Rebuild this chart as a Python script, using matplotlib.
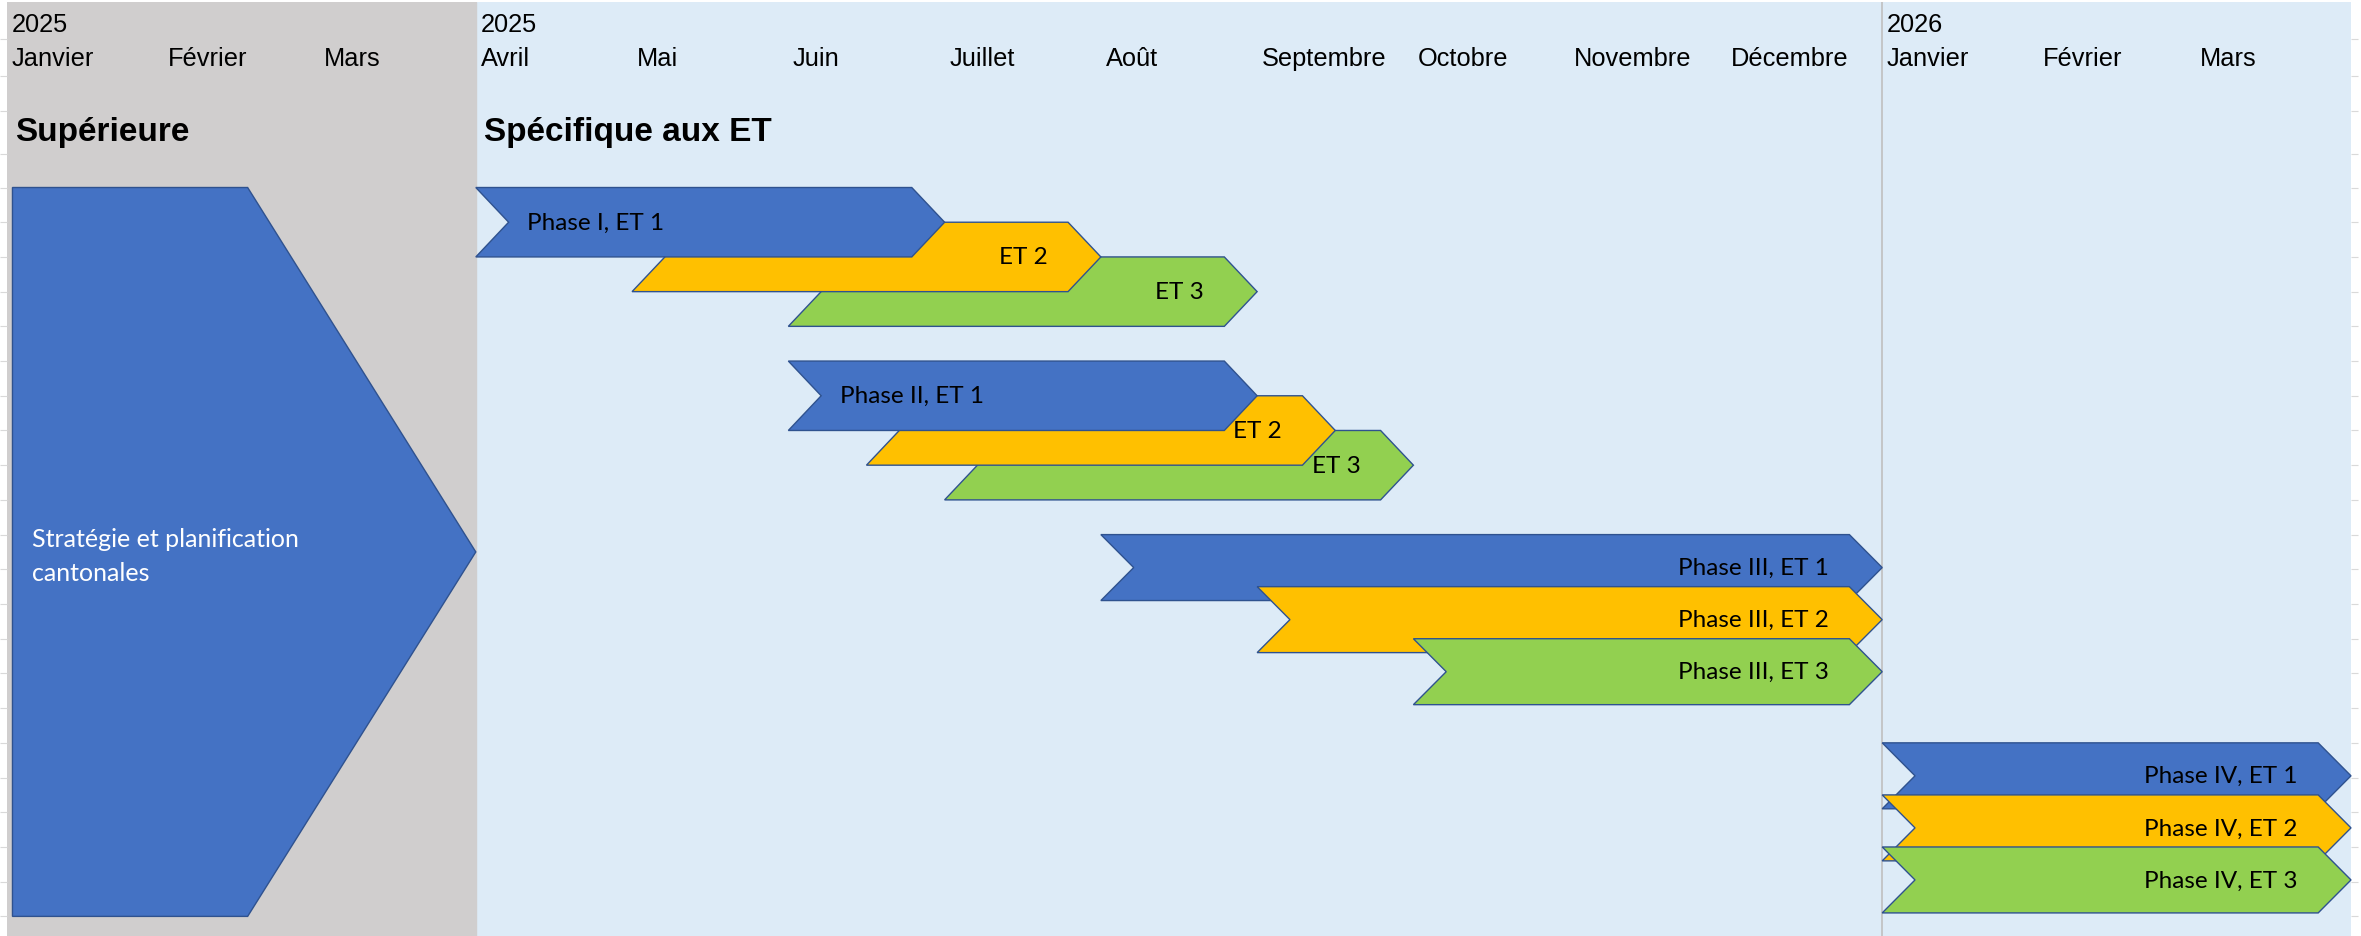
import matplotlib.pyplot as plt
from matplotlib.patches import Polygon

# timeline: months counted from January 2025
month_names = ['Janvier', 'Février', 'Mars', 'Avril', 'Mai', 'Juin', 'Juillet', 'Août',
               'Septembre', 'Octobre', 'Novembre', 'Décembre', 'Janvier', 'Février', 'Mars']
year_marks = [0, 3, 12]
year_labels = ['2025', '2025', '2026']

section_titles = ['Supérieure', 'Spécifique aux ET']
section_start = [0, 3]

# overarching block
top_label = 'Stratégie et planification\ncantonales'
top_start, top_end = 0, 3

# phases x streams (ET 1, ET 2, ET 3), in months
phase_start = [[3, 4, 5], [5, 5.5, 6], [7, 8, 9], [12, 12, 12]]
phase_end = [[6, 7, 8], [8, 8.5, 9], [12, 12, 12], [15, 15, 15]]
phase_labels = [['Phase I, ET 1', 'ET 2', 'ET 3'],
                ['Phase II, ET 1', 'ET 2', 'ET 3'],
                ['Phase III, ET 1', 'Phase III, ET 2', 'Phase III, ET 3'],
                ['Phase IV, ET 1', 'Phase IV, ET 2', 'Phase IV, ET 3']]

# layout (rows of the sheet)
phase_row = [0, 5, 10, 16]
stream_step = [1, 1, 1.5, 1.5]
bar_h = [2.0, 2.0, 1.9, 1.9]
first_on_top = [True, True, False, False]
label_left = [[True, False, False], [True, False, False],
              [False, False, False], [False, False, False]]
tip = 0.21

colors = ['#4472C4', '#FFC000', '#92D050']
edge = '#2F528F'
shape_font = 'Lato'
sheet_font = 'Liberation Sans'

fig = plt.figure(figsize=(23.61, 9.37), dpi=100)
ax = fig.add_axes([7 / 2361, 0, 2344 / 2361, 934 / 937])
ax.set_xlim(0, 15)
ax.set_ylim(21.565, -5.345)
ax.set_facecolor('#DDEBF7')
for s in ax.spines.values():
    s.set_visible(False)
ax.set_xticks([])
ax.set_yticks([-4.29, -3.22, -2.21, -0.97] + list(range(22)))
ax.set_yticklabels([])
ax.tick_params(axis='y', left=True, right=True, direction='out', length=5,
               width=0.8, color='#D9D9D9')

ax.axvspan(0, 3, color='#D0CECE', zorder=0)
ax.axvline(12, color='#BFBFBF', lw=1.2, zorder=1)

for m, name in enumerate(month_names):
    ax.text(m + 0.03, -3.72, name, fontsize=18.3, family=sheet_font, va='center', ha='left')
for m, y in zip(year_marks, year_labels):
    ax.text(m + 0.03, -4.72, y, fontsize=18.3, family=sheet_font, va='center', ha='left')
for m, t in zip(section_start, section_titles):
    ax.text(m + 0.05, -1.6, t, fontsize=24, family=sheet_font, weight='bold',
            va='center', ha='left')


def chevron(x0, x1, y0, h, notch=True, d=tip, d2=None):
    d2 = d if d2 is None else d2
    pts = [(x0, y0), (x1 - d, y0), (x1, y0 + h / 2), (x1 - d, y0 + h), (x0, y0 + h)]
    if notch:
        pts.append((x0 + d2, y0 + h / 2))
    return pts


# big pentagon for the cantonal strategy
big = Polygon(chevron(top_start + 0.035, top_end, 0, 21, notch=False, d=1.46),
              closed=True, fc=colors[0], ec=edge, lw=1.0, zorder=2)
ax.add_patch(big)
ax.text(top_start + 0.16, 10.6, top_label, color='white', fontsize=18,
        family=shape_font, ha='left', va='center', linespacing=1.55, zorder=10)

for p in range(len(phase_start)):
    order = [2, 1, 0] if first_on_top[p] else [0, 1, 2]
    for z, k in enumerate(order):
        x0, x1 = phase_start[p][k], phase_end[p][k]
        y0 = phase_row[p] + k * stream_step[p]
        h = bar_h[p]
        poly = Polygon(chevron(x0, x1, y0, h), closed=True, fc=colors[k], ec=edge,
                       lw=1.0, zorder=3 + p + z * 0.1, clip_on=False)
        ax.add_patch(poly)
        if label_left[p][k]:
            ax.text(x0 + 0.33, y0 + h / 2, phase_labels[p][k], fontsize=17.5,
                    family=shape_font, ha='left', va='center', zorder=10)
        else:
            ax.text(x1 - 0.34, y0 + h / 2, phase_labels[p][k], fontsize=17.5,
                    family=shape_font, ha='right', va='center', zorder=10)

fig.savefig('out.png', dpi=100)
